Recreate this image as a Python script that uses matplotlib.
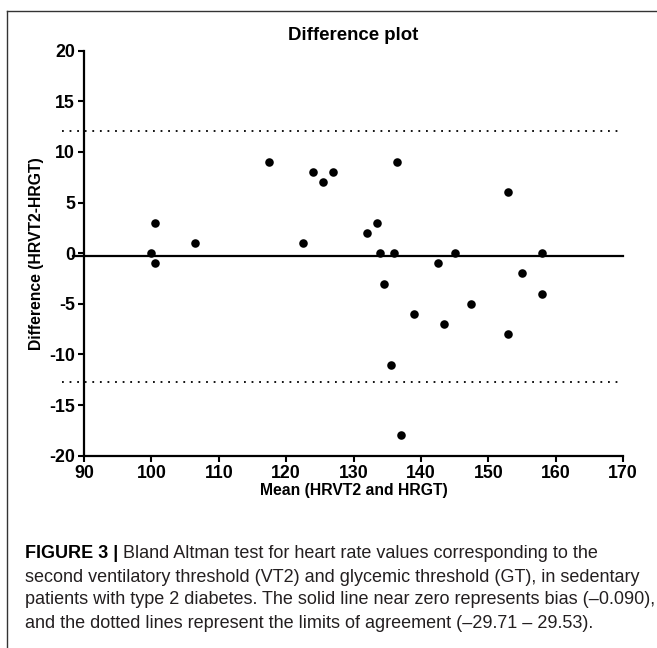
import matplotlib
matplotlib.use("Agg")
import matplotlib.pyplot as plt
from matplotlib.lines import Line2D

# ---- data ----
mean_vals = [100.0, 100.5, 100.5, 106.5, 117.5, 122.5, 124.0, 125.5, 127.0,
             136.5, 132.0, 133.5, 134.0, 136.0, 134.5, 135.5, 137.0, 139.0,
             142.5, 143.5, 145.0, 147.5, 153.0, 153.0, 155.0, 158.0, 158.0]
diff_vals = [0, 3, -1, 1, 9, 1, 8, 7, 8,
             9, 2, 3, 0, 0, -3, -11, -18, -6,
             -1, -7, 0, -5, 6, -8, -2, 0, -4]
bias = -0.3
loa_upper = 12.1
loa_lower = -12.7
x_ticks = [90, 100, 110, 120, 130, 140, 150, 160, 170]
y_ticks = [-20, -15, -10, -5, 0, 5, 10, 15, 20]

title = "Difference plot"
xlabel = "Mean (HRVT2 and HRGT)"
ylabel = "Difference (HRVT2-HRGT)"
cap_bold = "FIGURE 3 | "
cap_lines = [
    "Bland Altman test for heart rate values corresponding to the",
    "second ventilatory threshold (VT2) and glycemic threshold (GT), in sedentary",
    "patients with type 2 diabetes. The solid line near zero represents bias (\u20130.090),",
    "and the dotted lines represent the limits of agreement (\u201329.71 \u2013 29.53).",
]

plt.rcParams['font.family'] = ['Liberation Sans', 'DejaVu Sans']

W, H = 657, 648
fig = plt.figure(figsize=(W / 100, H / 100), dpi=100)

# axes position in pixels
L, R, T, B = 84, 623, 50.7, 455.7
ax = fig.add_axes([L / W, 1 - B / H, (R - L) / W, (B - T) / H])

ax.scatter(mean_vals, diff_vals, s=38, color='black', zorder=3, linewidths=0)
ax.axhline(bias, xmin=-0.02, xmax=1, color='black', lw=1.6, clip_on=False, zorder=2)
for v in (loa_upper, loa_lower):
    ax.axhline(v, xmin=-0.04, xmax=1, color='black', lw=1.3,
               linestyle=(0, (1, 3.2)), clip_on=False, zorder=2)

ax.set_xlim(90, 170)
ax.set_ylim(-20, 20)
ax.set_xticks(x_ticks)
ax.set_yticks(y_ticks)
ax.set_xticklabels([str(t) for t in x_ticks], fontweight='bold', fontsize=12.8)
ax.set_yticklabels([str(t) for t in y_ticks], fontweight='bold', fontsize=12.8)
for s in ('top', 'right'):
    ax.spines[s].set_visible(False)
for s in ('left', 'bottom'):
    ax.spines[s].set_linewidth(1.6)
ax.tick_params(axis='both', direction='out', length=4.5, width=1.5, pad=2, colors='black')
ax.set_xlabel(xlabel, fontweight='bold', fontsize=11.3, labelpad=1)
ax.set_ylabel(ylabel, fontweight='bold', fontsize=11.3, labelpad=4)

fig.text((L + R) / 2 / W, 1 - 35 / H, title, ha='center', va='center',
         fontweight='bold', fontsize=13.4)

# border (left and top edges)
fig.add_artist(Line2D([7.3 / W, 7.3 / W], [0, 1 - 10.7 / H], transform=fig.transFigure,
                      color='#333333', lw=1.0))
fig.add_artist(Line2D([7.3 / W, 1], [1 - 10.7 / H, 1 - 10.7 / H], transform=fig.transFigure,
                      color='#333333', lw=1.0))

# caption
cap_fs = 13.0
cap_color = '#231f20'
x0 = 25 / W
line_y = [553, 577, 600, 623]
fig.canvas.draw()
renderer = fig.canvas.get_renderer()
tb = fig.text(x0, 1 - line_y[0] / H, cap_bold, fontweight='bold', fontsize=cap_fs,
              color='black', va='center', ha='left')
bb = tb.get_window_extent(renderer=renderer)
fig.text(bb.x1 / W, 1 - line_y[0] / H, cap_lines[0], fontsize=cap_fs,
         color=cap_color, va='center', ha='left')
for yy, txt in zip(line_y[1:], cap_lines[1:]):
    fig.text(x0, 1 - yy / H, txt, fontsize=cap_fs, color=cap_color, va='center', ha='left')

fig.savefig("out.png", dpi=100)
